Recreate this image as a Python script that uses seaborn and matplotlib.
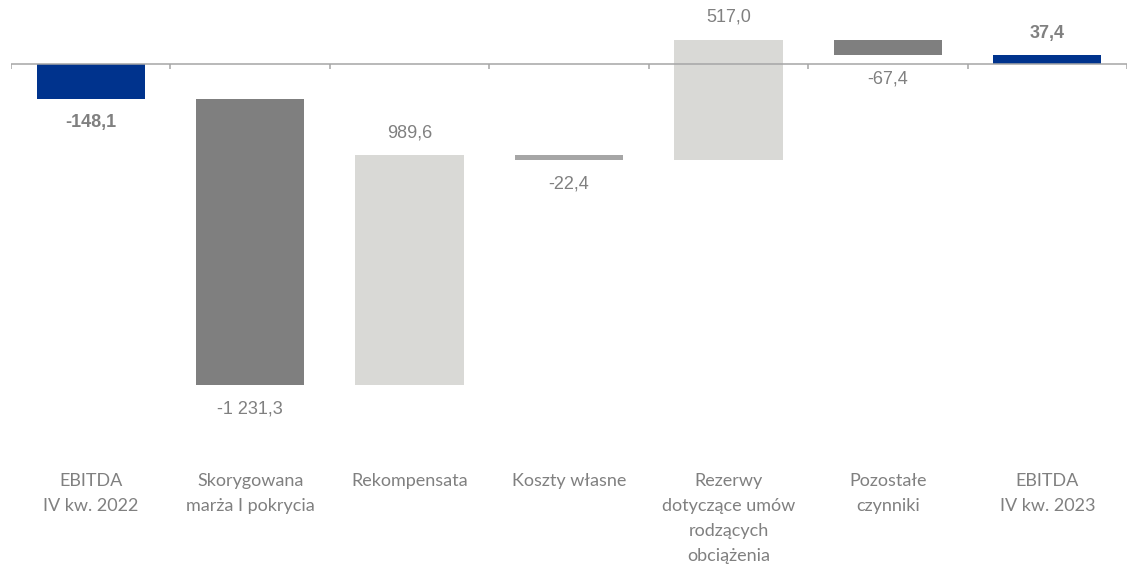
import numpy as np
import pandas as pd
import matplotlib
matplotlib.use("Agg")
import matplotlib.pyplot as plt
import seaborn as sns

categories = ["EBITDA\nIV kw. 2022", "Skorygowana\nmarża I pokrycia", "Rekompensata",
              "Koszty własne", "Rezerwy\ndotyczące umów\nrodzących\nobciążenia",
              "Pozostałe\nczynniki", "EBITDA\nIV kw. 2023"]
changes = [-148.1, -1231.3, 989.6, -22.4, 517.0, -67.4, 37.4]
value_labels = ["-148,1", "-1 231,3", "989,6", "-22,4", "517,0", "-67,4", "37,4"]
is_total = [True, False, False, False, False, False, True]

bar_colors = ["#00338D", "#7F7F7F", "#D9D9D6", "#A6A6A6", "#D9D9D6", "#7F7F7F", "#00338D"]

# floating bar starts
starts = []
run = 0.0
for v, tot in zip(changes, is_total):
    if tot:
        starts.append(0.0)
        run = v
    else:
        starts.append(run)
        run += v

sns.set_theme(style="white")
fig = plt.figure(figsize=(11.27, 5.70), dpi=100)
ax = fig.add_axes([11 / 1127, 1 - 440 / 570, 1 - 11 / 1127, 440 / 570])

df = pd.DataFrame({"cat": categories, "change": changes})
sns.barplot(data=df, x="cat", y="change", hue="cat", palette=bar_colors,
            width=0.68, saturation=1, legend=False, ax=ax, zorder=2)
for patch, s in zip(ax.patches, starts):
    patch.set_y(s)
    patch.set_edgecolor("none")

ax.set_xlim(-0.5, len(categories) - 0.5)
ax.set_ylim(-1614, 275)

ax.axhline(0, color="#A6A6A6", lw=1.1, zorder=3)
bounds = np.arange(len(categories) + 1) - 0.5
ax.vlines(bounds, -22, 0, color="#A6A6A6", lw=1.1, zorder=3)

for i, (v, s, lab, tot) in enumerate(zip(changes, starts, value_labels, is_total)):
    end = s + v
    if v >= 0:
        y, off = end, 16
    else:
        y, off = end, -17
    ax.annotate(lab, xy=(i, y), xytext=(0, off), textcoords="offset points",
                ha="center", va="center", fontsize=13, color="#808080",
                fontfamily="Liberation Sans", fontweight="bold" if tot else "normal")

ax.set_yticks([])
ax.set_xlabel("")
ax.set_ylabel("")
ax.set_xticks(range(len(categories)))
ax.set_xticklabels(categories, fontfamily="Lato", fontsize=13, color="#808080",
                   linespacing=1.68, va="top")
ax.tick_params(axis="x", length=0, pad=24)
for sp in ax.spines.values():
    sp.set_visible(False)

fig.savefig("out.png", dpi=100)
